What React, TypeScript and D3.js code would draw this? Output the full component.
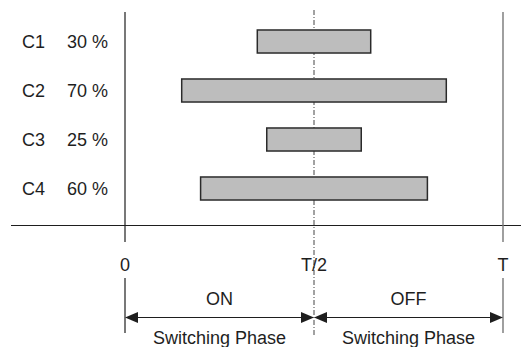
import React from "react";
import * as d3 from "d3";

const channels = ["C1", "C2", "C3", "C4"];
const dutyCycles = [0.3, 0.7, 0.25, 0.6];
const dutyLabels = ["30 %", "70 %", "25 %", "60 %"];
const tickValues = [0, 0.5, 1];
const tickLabels = ["0", "T/2", "T"];
const phaseLabels = ["ON", "OFF"];
const phaseSubLabel = "Switching Phase";

const W = 521;
const H = 347;
const FONT = "'Liberation Sans', Arial, Helvetica, sans-serif";
const INK = "#1e1e1e";

export default function App() {
  const x = d3.scaleLinear().domain([0, 1]).range([125, 503]);
  const y = d3
    .scaleBand<string>()
    .domain(channels)
    .range([17, 213])
    .paddingInner(0.53)
    .paddingOuter(0.265);

  const axisY = 225.5;
  const arrowY = 317.5;
  const headL = 13;
  const headH = 5.5;

  const arrowHead = (tipX: number, dir: number) =>
    `M${tipX},${arrowY} L${tipX - dir * headL},${arrowY - headH} L${tipX - dir * headL},${arrowY + headH} Z`;

  const phases = [
    [0, 0.5],
    [0.5, 1],
  ];

  return (
    <svg
      width={W}
      height={H}
      style={{ position: "absolute", left: 0, top: 0, background: "#fff" }}
      fontFamily={FONT}
    >
      {/* dash-dot T/2 line */}
      <line
        x1={x(0.5)}
        x2={x(0.5)}
        y1={10}
        y2={335}
        stroke="#444"
        strokeWidth={1}
        strokeDasharray="5,2,1,2"
      />
      {/* bars */}
      {channels.map((c, i) => {
        const p = dutyCycles[i];
        const x0 = x(0.5 - p / 2);
        const x1 = x(0.5 + p / 2);
        return (
          <rect
            key={c}
            x={x0}
            y={y(c)!}
            width={x1 - x0}
            height={y.bandwidth()}
            fill="#bdbdbd"
            stroke="#2a2a2a"
            strokeWidth={1.5}
          />
        );
      })}
      {/* labels */}
      {channels.map((c, i) => (
        <g key={c + "l"} fontSize={18} fill={INK}>
          <text x={22} y={y(c)! + y.bandwidth() / 2 + 6.5}>
            {c}
          </text>
          <text x={67} y={y(c)! + y.bandwidth() / 2 + 6.5}>
            {dutyLabels[i]}
          </text>
        </g>
      ))}
      {/* horizontal axis */}
      <line x1={11} x2={W} y1={axisY} y2={axisY} stroke={INK} strokeWidth={1.2} />
      {/* vertical lines at 0 and T */}
      <line x1={x(0)} x2={x(0)} y1={12} y2={242} stroke={INK} strokeWidth={1.2} />
      <line x1={x(0)} x2={x(0)} y1={278} y2={333} stroke={INK} strokeWidth={1.2} />
      <line x1={x(1)} x2={x(1)} y1={12} y2={242} stroke="#777" strokeWidth={1.4} />
      <line x1={x(1)} x2={x(1)} y1={278} y2={333} stroke="#777" strokeWidth={1.4} />
      {/* tick labels */}
      {tickValues.map((v, i) => (
        <text
          key={tickLabels[i]}
          x={x(v)}
          y={271}
          fontSize={18}
          textAnchor="middle"
          fill={INK}
        >
          {tickLabels[i]}
        </text>
      ))}
      {/* phase arrows */}
      {phases.map(([a, b], i) => (
        <g key={"ph" + i}>
          <line
            x1={x(a) + 2}
            x2={x(b) - 2}
            y1={arrowY}
            y2={arrowY}
            stroke={INK}
            strokeWidth={1.2}
          />
          <path d={arrowHead(x(a), -1)} fill={INK} />
          <path d={arrowHead(x(b), 1)} fill={INK} />
          <text
            x={(x(a) + x(b)) / 2}
            y={305}
            fontSize={18}
            textAnchor="middle"
            fill={INK}
          >
            {phaseLabels[i]}
          </text>
          <text
            x={(x(a) + x(b)) / 2}
            y={344}
            fontSize={18}
            textAnchor="middle"
            fill={INK}
          >
            {phaseSubLabel}
          </text>
        </g>
      ))}
    </svg>
  );
}
